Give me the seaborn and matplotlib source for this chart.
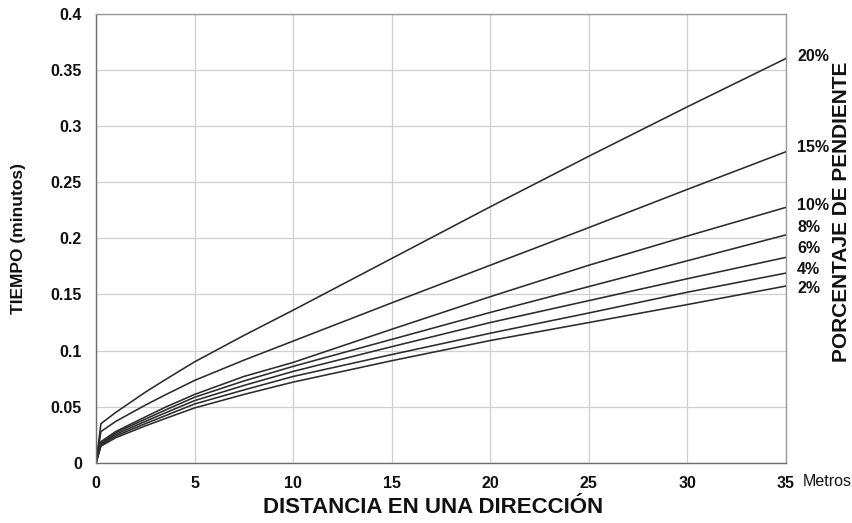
import matplotlib
matplotlib.use("Agg")
import numpy as np
import pandas as pd
import matplotlib.pyplot as plt
import seaborn as sns

# Distance along the slope (metres) at which each curve is tabulated
distancia = [0, 0.25, 1, 2.5, 3.5, 5, 7.5, 10, 15, 20, 25, 30, 35]

# Slope classes, steepest first
pendientes = ["20%", "15%", "10%", "8%", "6%", "4%", "2%"]

# Travel time (minutes) for each slope class
t_20 = [0, 0.035, 0.045, 0.063, 0.074, 0.090, 0.1135, 0.136, 0.182, 0.228, 0.273, 0.317, 0.360]
t_15 = [0, 0.028, 0.037, 0.0515, 0.0605, 0.0735, 0.0915, 0.1085, 0.1425, 0.176, 0.2095, 0.2435, 0.277]
t_10 = [0, 0.019, 0.028, 0.041, 0.0495, 0.061, 0.077, 0.0895, 0.119, 0.148, 0.176, 0.202, 0.2275]
t_8 = [0, 0.018, 0.027, 0.039, 0.047, 0.0585, 0.073, 0.086, 0.110, 0.134, 0.157, 0.180, 0.203]
t_6 = [0, 0.017, 0.0255, 0.037, 0.0445, 0.0555, 0.069, 0.0815, 0.1035, 0.125, 0.1445, 0.164, 0.183]
t_4 = [0, 0.016, 0.024, 0.035, 0.042, 0.0525, 0.065, 0.077, 0.0965, 0.1155, 0.1335, 0.152, 0.169]
t_2 = [0, 0.015, 0.0225, 0.033, 0.0395, 0.049, 0.061, 0.072, 0.091, 0.109, 0.125, 0.141, 0.1575]

y_ticks = [0, 0.05, 0.1, 0.15, 0.2, 0.25, 0.3, 0.35, 0.4]
x_ticks = [0, 5, 10, 15, 20, 25, 30, 35]

series = [t_20, t_15, t_10, t_8, t_6, t_4, t_2]
df = pd.concat(
    [pd.DataFrame({"distancia": distancia, "tiempo": t, "pendiente": p})
     for p, t in zip(pendientes, series)],
    ignore_index=True,
)

sns.set_theme(style="white")
plt.rcParams["font.family"] = ["Liberation Sans", "DejaVu Sans"]

fig = plt.figure(figsize=(8.52, 5.23), dpi=100)
ax = fig.add_axes([96 / 852, 60 / 523, 690 / 852, 449.5 / 523])

palette = {p: "#2b2b2b" for p in pendientes}
sns.lineplot(data=df, x="distancia", y="tiempo", hue="pendiente",
             palette=palette, linewidth=1.15, legend=False, ax=ax)

ax.set_xlim(0, 35)
ax.set_ylim(0, 0.4)
ax.set_xticks(x_ticks)
ax.set_yticks(y_ticks)
ax.set_yticklabels([f"{v:g}" for v in y_ticks])
ax.grid(True, color="#cfcfcf", linewidth=0.9)
ax.tick_params(axis="both", length=0, labelsize=11.5, colors="#111111")
ax.tick_params(axis="y", pad=10)
ax.tick_params(axis="x", pad=9)
for lab in ax.get_xticklabels() + ax.get_yticklabels():
    lab.set_fontweight("bold")
for side, sp in ax.spines.items():
    sp.set_color("#9a9a9a" if side in ("top", "right") else "#6e6e6e")
    sp.set_linewidth(1.0)

ax.set_ylabel("TIEMPO (minutos)", fontsize=12.5, fontweight="bold", color="#111111")
ax.yaxis.set_label_coords(-0.113, 0.5)
ax.yaxis.label.set_va("center")
ax.set_xlabel("DISTANCIA EN UNA DIRECCIÓN", fontsize=16, fontweight="bold", color="#111111")
ax.xaxis.set_label_coords(0.488, -0.1)
ax.xaxis.label.set_va("center")

fig.text(803 / 852, 1 - 481 / 523, "Metros", fontsize=11.5, ha="left", va="center", color="#111111")

# Slope labels at the right end of each curve
label_y = [0.3615, 0.2808, 0.2295, 0.2097, 0.1910, 0.1723, 0.1554]
for p, yl in zip(pendientes, label_y):
    ax.text(35.56, yl, p, fontsize=11.5, fontweight="bold",
            ha="left", va="center", color="#111111", clip_on=False)

fig.text(851 / 852, 1 - 212 / 523, "PORCENTAJE DE PENDIENTE", rotation=90,
         fontsize=15, fontweight="bold",
         ha="right", va="center", color="#111111")

fig.savefig("out.png", dpi=100, facecolor="white")
